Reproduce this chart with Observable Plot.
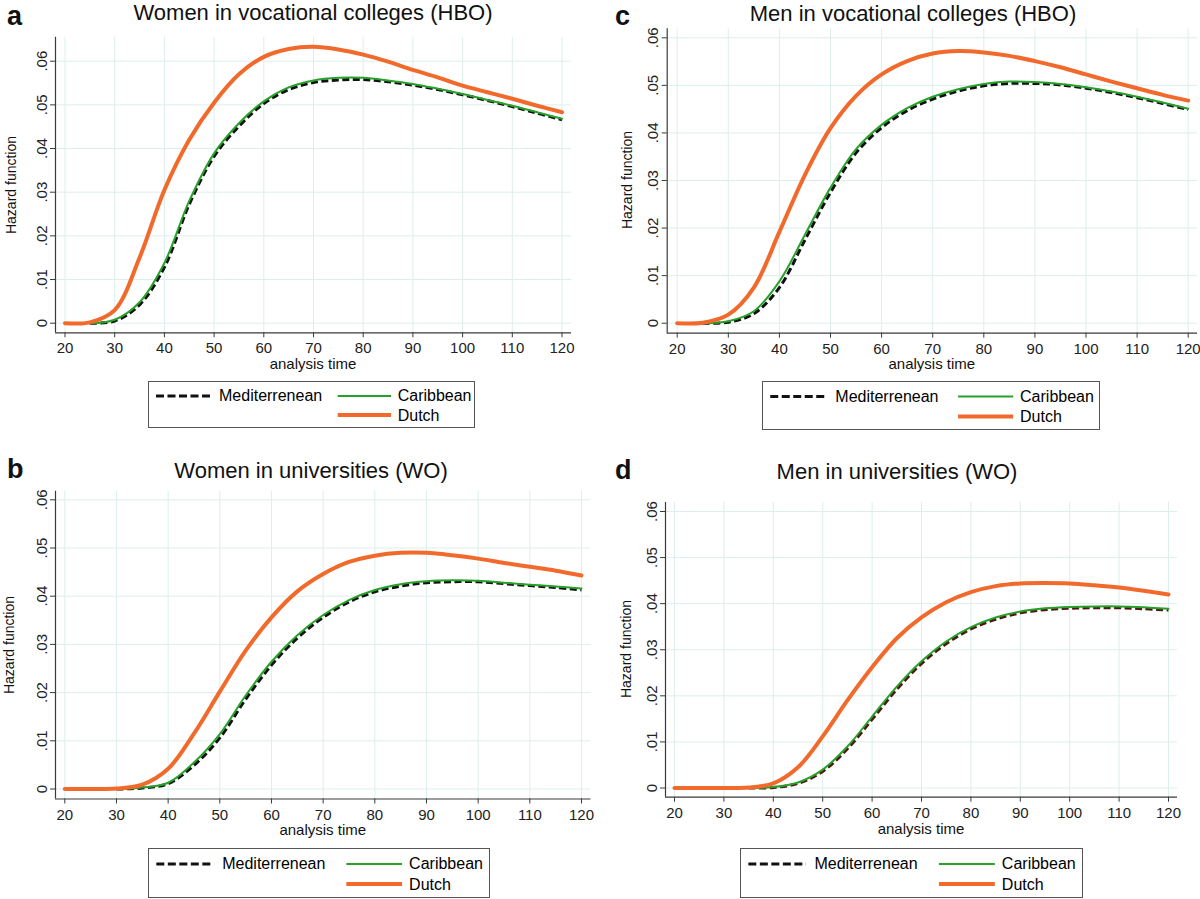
<!DOCTYPE html>
<html><head><meta charset="utf-8">
<script src="https://cdn.jsdelivr.net/npm/d3@7"></script>
<script src="https://cdn.jsdelivr.net/npm/@observablehq/plot@0.6"></script>
<style>
body{margin:0;background:#fff;}
#wrap{position:relative;width:1200px;height:899px;overflow:hidden;font-family:"Liberation Sans",Arial,Helvetica,sans-serif;color:#111;}
.abs{position:absolute;line-height:1;white-space:nowrap;}
.title{font-size:22px;transform:translateX(-50%);}
.letter{font-size:27px;font-weight:bold;}
.ylab{font-size:14px;transform:translate(-50%,-50%) rotate(-90deg);}
.xlab{font-size:15px;transform:translateX(-50%);}
.legend{border:1px solid #555;box-sizing:border-box;background:#fff;}
</style></head><body><div id="wrap"></div>
<script>
// ---------- data ----------
const age = [20,25,30,35,40,45,50,55,60,65,70,75,80,85,90,95,100,105,110,115,120];
const xTicks = [20,30,40,50,60,70,80,90,100,110,120];
const yTicks = [0,0.01,0.02,0.03,0.04,0.05,0.06];
const seriesNames = ["Mediterrenean","Caribbean","Dutch"];
const panelLetters = ["a","c","b","d"];
const panelTitles = ["Women in vocational colleges (HBO)","Men in vocational colleges (HBO)","Women in universities (WO)","Men in universities (WO)"];
const xTitle = "analysis time";
const yTitle = "Hazard function";

// a: Women HBO
const womenHBO_Med   = [null,0,0.0005,0.0042,0.0128,0.0272,0.0382,0.0451,0.0503,0.0535,0.0551,0.0557,0.0558,0.0553,0.0545,0.0535,0.0523,0.0510,0.0496,0.0481,0.0466];
const womenHBO_Car   = [null,0,0.0008,0.0048,0.0138,0.0280,0.0389,0.0458,0.0508,0.0540,0.0556,0.0562,0.0562,0.0556,0.0548,0.0537,0.0525,0.0511,0.0498,0.0483,0.0468];
const womenHBO_Dutch = [0,0.0002,0.0030,0.0150,0.0305,0.0420,0.0505,0.0570,0.0610,0.0628,0.0633,0.0627,0.0615,0.0599,0.0580,0.0563,0.0544,0.0529,0.0514,0.0498,0.0483];
// c: Men HBO
const menHBO_Med     = [null,0,0.0002,0.0020,0.0075,0.0175,0.0275,0.0358,0.0411,0.0447,0.0471,0.0488,0.0499,0.0504,0.0504,0.0501,0.0494,0.0485,0.0474,0.0462,0.0449];
const menHBO_Car     = [null,0,0.0004,0.0025,0.0088,0.0186,0.0285,0.0366,0.0417,0.0452,0.0476,0.0492,0.0503,0.0508,0.0507,0.0503,0.0496,0.0487,0.0476,0.0464,0.0451];
const menHBO_Dutch   = [0,0.0001,0.0018,0.0075,0.0192,0.0312,0.0410,0.0478,0.0523,0.0551,0.0567,0.0572,0.0569,0.0562,0.0551,0.0538,0.0523,0.0508,0.0494,0.0480,0.0468];
// b: Women WO
const womenWO_Med    = [null,null,0,0.0002,0.0011,0.0049,0.0106,0.0186,0.0257,0.0313,0.0356,0.0388,0.0409,0.0421,0.0428,0.0430,0.0430,0.0426,0.0422,0.0418,0.0413];
const womenWO_Car    = [null,null,0,0.0003,0.0013,0.0055,0.0114,0.0194,0.0264,0.0319,0.0361,0.0392,0.0413,0.0425,0.0431,0.0433,0.0432,0.0428,0.0424,0.0420,0.0416];
const womenWO_Dutch  = [0,0,0.0001,0.0009,0.0042,0.0115,0.0202,0.0287,0.0356,0.0410,0.0446,0.0471,0.0484,0.0490,0.0490,0.0485,0.0478,0.0469,0.0461,0.0453,0.0443];
// d: Men WO
const menWO_Med      = [null,null,null,0,0.0001,0.0010,0.0036,0.0085,0.0149,0.0214,0.0270,0.0313,0.0345,0.0366,0.0380,0.0387,0.0390,0.0391,0.0391,0.0389,0.0386];
const menWO_Car      = [null,null,null,0,0.0002,0.0012,0.0040,0.0090,0.0155,0.0220,0.0275,0.0318,0.0349,0.0370,0.0383,0.0390,0.0393,0.0394,0.0394,0.0392,0.0389];
const menWO_Dutch    = [0,0,0,0.0001,0.0010,0.0045,0.0112,0.0190,0.0262,0.0325,0.0370,0.0403,0.0425,0.0438,0.0444,0.0445,0.0444,0.0440,0.0435,0.0428,0.0420];

// ---------- layout (page pixel positions) ----------
const FONT = '"Liberation Sans",Arial,Helvetica,sans-serif';
const COL_DUTCH = "#f26a2b", COL_CAR = "#27a12a";
const panels = [
  {data:[womenHBO_Med,womenHBO_Car,womenHBO_Dutch], dash:"#111",
   svg:{left:0,top:0,w:600,h:440}, fr:{left:55,right:571,top:36.7,bottom:332.3,p20:64.5,p120:561.5,p0:322.7,p06:60.7},
   titleX:313, titleTop:2.3, letter:{x:7,top:3}, ylab:{x:11,y:185}, xlabTop:355.5,
   legend:{left:148,top:381,w:327,h:47}},
  {data:[menHBO_Med,menHBO_Car,menHBO_Dutch], dash:"#111",
   svg:{left:600,top:0,w:600,h:440}, fr:{left:666.7,right:1197,top:28.3,bottom:332.7,p20:676.7,p120:1187.7,p0:322.7,p06:37.3},
   titleX:913, titleTop:3.3, letter:{x:615,top:3}, ylab:{x:626.5,y:180}, xlabTop:356,
   legend:{left:762,top:381,w:338,h:49}},
  {data:[womenWO_Med,womenWO_Car,womenWO_Dutch], dash:"#111",
   svg:{left:0,top:440,w:600,h:459}, fr:{left:55,right:590.5,top:490.7,bottom:798.5,p20:64.3,p120:581,p0:788.5,p06:499.3},
   titleX:311, titleTop:459.5, letter:{x:7,top:455.5}, ylab:{x:9,y:645}, xlabTop:821.5,
   legend:{left:148,top:848,w:342,h:50}},
  {data:[menWO_Med,menWO_Car,menWO_Dutch], dash:"#4e1712",
   svg:{left:600,top:440,w:600,h:459}, fr:{left:665,right:1177,top:502,bottom:796.7,p20:674,p120:1168,p0:787.5,p06:511},
   titleX:897, titleTop:460.5, letter:{x:615,top:456.5}, ylab:{x:625.5,y:649}, xlabTop:820.5,
   legend:{left:740,top:848,w:343,h:50}}
];

const wrap = document.getElementById("wrap");
const yFmt = d => d === 0 ? "0" : d3.format(".2f")(d).slice(1);

function addDiv(cls, text, style){
  const el = document.createElement("div");
  el.className = "abs " + cls;
  el.textContent = text;
  Object.assign(el.style, style);
  wrap.appendChild(el);
  return el;
}

panels.forEach((p, k) => {
  const S = p.svg, F = p.fr;
  const ux = 100 / (F.p120 - F.p20);
  const xDomain = [20 - (F.p20 - F.left) * ux, 120 + (F.right - F.p120) * ux];
  const uy = 0.06 / (F.p0 - F.p06);
  const yDomain = [0 - (F.bottom - F.p0) * uy, 0.06 + (F.p06 - F.top) * uy];

  const rows = [];
  p.data.forEach((vals, s) => vals.forEach((v, i) => {
    if (v !== null) rows.push({t: age[i], v, name: seriesNames[s]});
  }));
  const of = name => rows.filter(d => d.name === name);

  const chart = Plot.plot({
    width: S.w, height: S.h,
    marginLeft: F.left - S.left, marginRight: S.left + S.w - F.right,
    marginTop: F.top - S.top, marginBottom: S.top + S.h - F.bottom,
    x: {domain: xDomain},
    y: {domain: yDomain},
    style: {fontFamily: FONT, fontSize: "15px", color: "#222", background: "transparent", overflow: "visible"},
    marks: [
      Plot.gridX(xTicks, {stroke: "#dcefec", strokeOpacity: 1, strokeWidth: 1}),
      Plot.gridY(yTicks, {stroke: "#dcefec", strokeOpacity: 1, strokeWidth: 1}),
      Plot.ruleX([xDomain[0]], {stroke: "#3a3a3a", strokeWidth: 1.2}),
      Plot.ruleY([yDomain[0]], {stroke: "#3a3a3a", strokeWidth: 1.2}),
      Plot.axisX(xTicks, {tickSize: 5, tickPadding: 5, label: null, stroke: "#3a3a3a", fill: "#222"}),
      Plot.axisY(yTicks, {tickSize: 5, tickPadding: 4, tickRotate: -90, tickFormat: yFmt, label: null, stroke: "#3a3a3a", fill: "#222"}),
      Plot.line(of("Mediterrenean"), {x: "t", y: "v", stroke: p.dash, strokeWidth: 3, strokeDasharray: "7,3.5", strokeLinecap: "butt", curve: "catmull-rom"}),
      Plot.line(of("Caribbean"), {x: "t", y: "v", stroke: COL_CAR, strokeWidth: 2, curve: "catmull-rom"}),
      Plot.line(of("Dutch"), {x: "t", y: "v", stroke: COL_DUTCH, strokeWidth: 4, curve: "catmull-rom"})
    ]
  });
  chart.style.position = "absolute";
  chart.style.left = S.left + "px";
  chart.style.top = S.top + "px";
  wrap.appendChild(chart);

  // texts
  addDiv("title", panelTitles[k], {left: p.titleX + "px", top: p.titleTop + "px"});
  addDiv("letter", panelLetters[k], {left: p.letter.x + "px", top: p.letter.top + "px"});
  addDiv("ylab", yTitle, {left: p.ylab.x + "px", top: p.ylab.y + "px"});
  addDiv("xlab", xTitle, {left: ((F.left + F.right) / 2) + "px", top: p.xlabTop + "px"});

  // legend
  const L = p.legend;
  const sx = L.w / 327, sy = L.h / 47;
  const c1a = 7 * sx, c1b = 62 * sx, t1 = 70 * sx;
  const c2a = 188.7 * sx, c2b = 242 * sx, t2 = 248.7 * sx;
  const r1 = 14 * sy, r2 = 33 * sy;
  const lg = document.createElement("div");
  lg.className = "abs legend";
  Object.assign(lg.style, {left: L.left + "px", top: L.top + "px", width: L.w + "px", height: L.h + "px"});
  lg.innerHTML =
    `<svg width="${L.w-2}" height="${L.h-2}" style="position:absolute;left:0;top:0;font-family:${FONT};font-size:15px;fill:#111">
      <line x1="${c1a}" x2="${c1b}" y1="${r1}" y2="${r1}" stroke="#111" stroke-width="3" stroke-dasharray="8,3.5"/>
      <text x="${t1}" y="${r1+5}">${seriesNames[0]}</text>
      <line x1="${c2a}" x2="${c2b}" y1="${r1}" y2="${r1}" stroke="${COL_CAR}" stroke-width="2"/>
      <text x="${t2}" y="${r1+5}">${seriesNames[1]}</text>
      <line x1="${c2a}" x2="${c2b}" y1="${r2}" y2="${r2}" stroke="${COL_DUTCH}" stroke-width="4"/>
      <text x="${t2}" y="${r2+5.5}">${seriesNames[2]}</text>
    </svg>`;
  wrap.appendChild(lg);
});
</script></body></html>
